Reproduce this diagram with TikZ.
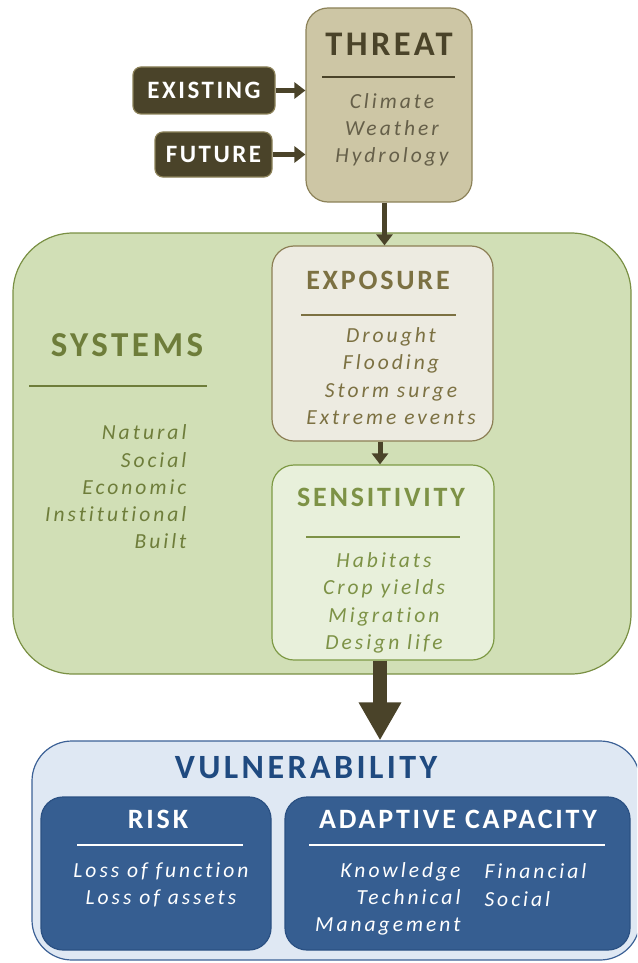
\documentclass[tikz,border=0pt]{standalone}
\usepackage{fontspec}
\setmainfont{Carlito}
\newfontfamily\headfont[LetterSpace=10,Ligatures=NoCommon]{Carlito}
\newfontfamily\listfont[LetterSpace=14,Ligatures=NoCommon]{Carlito}
\usetikzlibrary{arrows.meta}
\definecolor{darkbrown}{HTML}{4A4329}
\definecolor{threatfill}{HTML}{CDC6A5}
\definecolor{threatdraw}{HTML}{8C8259}
\definecolor{sysfill}{HTML}{D1DFB6}
\definecolor{sysdraw}{HTML}{7A9044}
\definecolor{systext}{HTML}{6E7D3A}
\definecolor{expfill}{HTML}{EDEBE1}
\definecolor{expdraw}{HTML}{8C7F55}
\definecolor{exptext}{HTML}{7C7142}
\definecolor{sensfill}{HTML}{E8F0DB}
\definecolor{sensdraw}{HTML}{7E9A45}
\definecolor{senstext}{HTML}{7D9246}
\definecolor{vulnfill}{HTML}{DFE8F3}
\definecolor{vulndraw}{HTML}{3C6196}
\definecolor{vulntext}{HTML}{1F4A80}
\definecolor{riskfill}{HTML}{365E91}
\definecolor{riskdraw}{HTML}{2B5183}
\begin{document}
\begin{tikzpicture}
		[x=1pt,y=-1pt,
		box/.style={draw,rounded corners=22pt,line width=1.2pt,inner sep=0pt},
		head/.style={font=\headfont\bfseries\fontsize{28}{32}\selectfont},
		list/.style={font=\listfont\itshape\fontsize{21.5}{27.3}\selectfont,align=center},
		rule/.style={line width=2.4pt},
		flow/.style={line width=5pt,darkbrown,-{Triangle[width=16pt,length=11pt]}}]
		\clip (0,0) rectangle (637,963);
		% outer boxes
		\node at (322, 453.5) (systems) [box,rounded corners=60pt,fill=sysfill,draw=sysdraw,
			minimum width=618pt,minimum height=441pt] {};
		\node at (336, 850.5) (vuln) [box,rounded corners=40pt,fill=vulnfill,draw=vulndraw,
			minimum width=608pt,minimum height=219pt] {};
		% threat and its inputs
		\node at (389, 105) (threat) [box,fill=threatfill,draw=threatdraw,
			minimum width=166pt,minimum height=194pt] {};
		\node at (204, 90.5) (existing) [box,rounded corners=8pt,fill=darkbrown,draw=threatdraw,
			minimum width=142pt,minimum height=47pt,text=white,
			font=\headfont\bfseries\fontsize{25}{28}\selectfont] {EXISTING};
		\node at (213.5, 154.5) (future) [box,rounded corners=8pt,fill=darkbrown,draw=threatdraw,
			minimum width=117pt,minimum height=45pt,text=white,
			font=\headfont\bfseries\fontsize{25}{28}\selectfont] {FUTURE};
		\node at (389, 44) (threattitle) [head,darkbrown,font=\headfont\bfseries\fontsize{34.5}{38}\selectfont] {THREAT};
		\draw[rule,darkbrown] (322, 77) -- (455, 77);
		\node at (392, 130) (threatlist) [list,darkbrown!85] {Climate\\Weather\\Hydrology};
		% exposure and sensitivity
		\node at (382.5, 343.5) (exposure) [box,fill=expfill,draw=expdraw,
			minimum width=221pt,minimum height=195pt] {};
		\node at (378, 280) (exptitle) [head,exptext] {EXPOSURE};
		\draw[rule,exptext] (301, 315) -- (456, 315);
		\node at (391, 376) (explist) [list,exptext] {Drought\\Flooding\\Storm surge\\Extreme events};
		\node at (383, 562.5) (sensitivity) [box,fill=sensfill,draw=sensdraw,
			minimum width=222pt,minimum height=195pt] {};
		\node at (381, 497) (senstitle) [head,senstext] {SENSITIVITY};
		\draw[rule,senstext] (306, 537) -- (460, 537);
		\node at (384, 603) (senslist) [list,senstext] {Habitats\\Crop yields\\Migration\\Design life};
		% systems text
		\node at (127, 345) (systitle) [head,systext,font=\headfont\bfseries\fontsize{35}{38}\selectfont] {SYSTEMS};
		\draw[rule,systext] (29, 386) -- (207, 386);
		\node at (190, 487) (syslist) [list,systext,anchor=east,align=right]
			{Natural\\Social\\Economic\\Institutional\\Built};
		% vulnerability
		\node at (306, 768) (vulntitle) [head,vulntext,font=\headfont\bfseries\fontsize{34}{38}\selectfont] {VULNERABILITY};
		\node at (156, 873.5) (risk) [box,fill=riskfill,draw=riskdraw,
			minimum width=230pt,minimum height=153pt] {};
		\node at (457.5, 873.5) (adaptive) [box,fill=riskfill,draw=riskdraw,
			minimum width=345pt,minimum height=153pt] {};
		\node at (158, 819) (risktitle) [head,white] {RISK};
		\draw[rule,white] (77, 845) -- (243, 845);
		\node at (161, 885) (risklist) [list,white] {Loss of function\\Loss of assets};
		\node at (458, 819) (adaptitle) [head,white] {ADAPTIVE CAPACITY};
		\draw[rule,white] (309, 845) -- (605, 845);
		\node at (464, 899) (adaplist1) [list,white,anchor=east,align=right] {Knowledge\\Technical\\Management};
		\node at (481, 885) (adaplist2) [list,white,anchor=west,align=left] {Financial\\Social};
		% connectors
		\draw[flow] (existing.east) -- (threat.west |- existing.east);
		\draw[flow] (future.east) -- (threat.west |- future.east);
		\draw[flow] (threat.south -| exposure.center) ++(2,0) coordinate (t1) (t1) -- (t1 |- exposure.north);
		\draw[flow] (exposure.south -| 380,0) -- (sensitivity.north -| 380,0);
		\draw[line width=14pt,darkbrown,-{Triangle[width=40pt,length=38pt]}]
			(sensitivity.south -| 380,0) -- (vuln.north -| 380,0);
	\end{tikzpicture}
\end{document}
